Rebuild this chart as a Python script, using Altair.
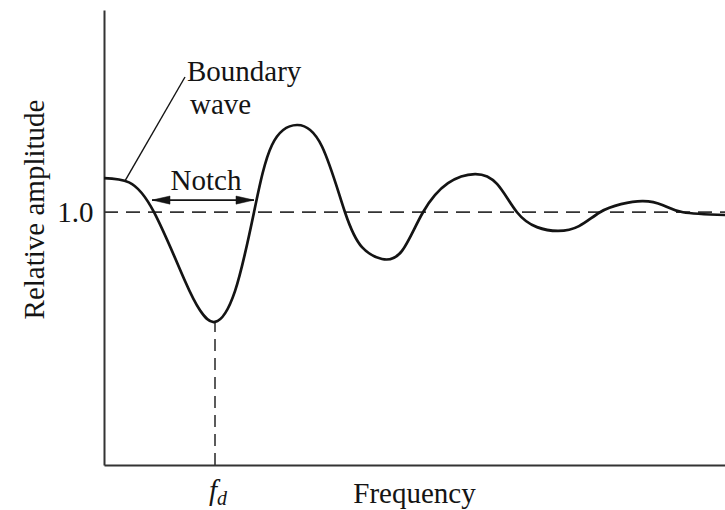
import altair as alt
import pandas as pd

# Relative amplitude of the response versus frequency (arbitrary units)
freq = [0.00, 0.25, 0.50, 0.81, 0.96, 1.11, 1.31, 1.50, 1.68, 1.93, 2.18,
        2.41, 2.58, 2.78, 2.98, 3.19, 3.44, 3.71, 3.93, 4.13, 4.33, 4.54, 4.75,
        4.96, 5.17, 5.39, 5.59, 5.79, 6.21]
amplitude = [1.135, 1.118, 1.000, 0.728, 0.612, 0.566, 0.688, 1.000, 1.266,
             1.345, 1.260, 1.000, 0.862, 0.815, 0.847, 1.000, 1.115, 1.151, 1.112,
             1.000, 0.941, 0.926, 0.945, 1.000, 1.032, 1.044, 1.028, 1.000, 0.989]

x_max = 6.21
y_max = 1.8
reference_level = 1.0

# Notch: the span where the first dip falls below the reference level
notch_start, notch_end = 0.48, 1.50
notch_arrow_y = 1.048

# Frequency of the notch minimum
i_min = amplitude.index(min(amplitude[:10]))
f_d, a_min = freq[i_min], amplitude[i_min]

FONT = "Liberation Serif"
INK = "#141414"

curve_df = pd.DataFrame({"f": freq, "a": amplitude})

xs = alt.Scale(domain=[0, x_max], nice=False, zero=False)
ys = alt.Scale(domain=[0, y_max], nice=False, zero=False)

x_axis = alt.Axis(labels=False, ticks=False, grid=False, domainColor="#333",
                  domainWidth=2, title="Frequency", titleFont=FONT,
                  titleFontSize=29, titleFontWeight="normal", titleColor=INK,
                  titleX=310, titleY=37, titleBaseline="alphabetic")
y_axis = alt.Axis(values=[reference_level], format=".1f", ticks=False, grid=False,
                  domainColor="#333", domainWidth=2, labelFont=FONT,
                  labelFontSize=29, labelColor=INK, labelPadding=11,
                  title="Relative amplitude", titleFont=FONT, titleFontSize=29,
                  titleFontWeight="normal", titleColor=INK, titleX=-61,
                  titleY=199, titleBaseline="alphabetic", titleAlign="center")

curve = alt.Chart(curve_df).mark_line(
    color=INK, strokeWidth=2.7, interpolate="natural"
).encode(
    x=alt.X("f:Q", scale=xs, axis=x_axis),
    y=alt.Y("a:Q", scale=ys, axis=y_axis),
)

base = alt.Chart(pd.DataFrame({"k": [0]}))

ref_line = base.mark_rule(color="#333", strokeWidth=1.8, strokeDash=[14, 8]).encode(
    x=alt.datum(0, scale=xs), x2=alt.datum(x_max), y=alt.datum(reference_level, scale=ys)
)

fd_line = base.mark_rule(color="#333", strokeWidth=1.6, strokeDash=[12, 7]).encode(
    x=alt.datum(f_d, scale=xs), y=alt.datum(0, scale=ys), y2=alt.datum(a_min)
)

notch_line = base.mark_rule(color=INK, strokeWidth=1.6).encode(
    x=alt.datum(notch_start, scale=xs), x2=alt.datum(notch_end),
    y=alt.datum(notch_arrow_y, scale=ys)
)

# Arrowheads at both ends of the notch span (tip at the anchor point)
head_left = base.mark_point(
    shape="M0,0L2,-0.45L2,0.45Z", filled=True, fill=INK, stroke=INK,
    strokeWidth=0.5, opacity=1, size=324
).encode(x=alt.datum(notch_start, scale=xs), y=alt.datum(notch_arrow_y, scale=ys))
head_right = base.mark_point(
    shape="M0,0L-2,-0.45L-2,0.45Z", filled=True, fill=INK, stroke=INK,
    strokeWidth=0.5, opacity=1, size=324
).encode(x=alt.datum(notch_end, scale=xs), y=alt.datum(notch_arrow_y, scale=ys))

# Leader from the label to the start of the curve
leader = base.mark_rule(color=INK, strokeWidth=1.4).encode(
    x=alt.datum(0.81, scale=xs), x2=alt.datum(0.21),
    y=alt.datum(1.535, scale=ys), y2=alt.datum(1.124),
)

left_df = pd.DataFrame({
    "f": [0.83, 0.86],
    "a": [1.518, 1.388],
    "text": ["Boundary", "wave"],
})
left_labels = alt.Chart(left_df).mark_text(
    font=FONT, fontSize=29, color=INK, baseline="alphabetic", align="left"
).encode(x=alt.X("f:Q", scale=xs), y=alt.Y("a:Q", scale=ys), text="text:N")

notch_label = base.mark_text(
    font=FONT, fontSize=29, color=INK, baseline="alphabetic", align="center"
).encode(
    x=alt.datum((notch_start + notch_end) / 2 + 0.03, scale=xs),
    y=alt.datum(1.086, scale=ys), text=alt.value("Notch"),
)

fd_f = base.mark_text(font=FONT, fontSize=29, fontStyle="italic", color=INK,
                      align="right", baseline="alphabetic").encode(
    x=alt.datum(f_d + 0.02, scale=xs), y=alt.datum(-0.138, scale=ys), text=alt.value("f")
)
fd_d = base.mark_text(font=FONT, fontSize=20, fontStyle="italic", color=INK,
                      align="left", baseline="alphabetic").encode(
    x=alt.datum(f_d + 0.02, scale=xs), y=alt.datum(-0.158, scale=ys), text=alt.value("d")
)

chart = alt.layer(
    ref_line, fd_line, curve, notch_line, head_left, head_right, leader,
    left_labels, notch_label, fd_f, fd_d
).properties(
    width=621, height=455,
    autosize=alt.AutoSizeParams(type="none"),
    padding={"left": 104, "top": 10, "right": 0, "bottom": 45},
    background="white",
).configure_view(stroke=None)

chart.save("out.html", embed_options={"renderer": "svg", "actions": False})
